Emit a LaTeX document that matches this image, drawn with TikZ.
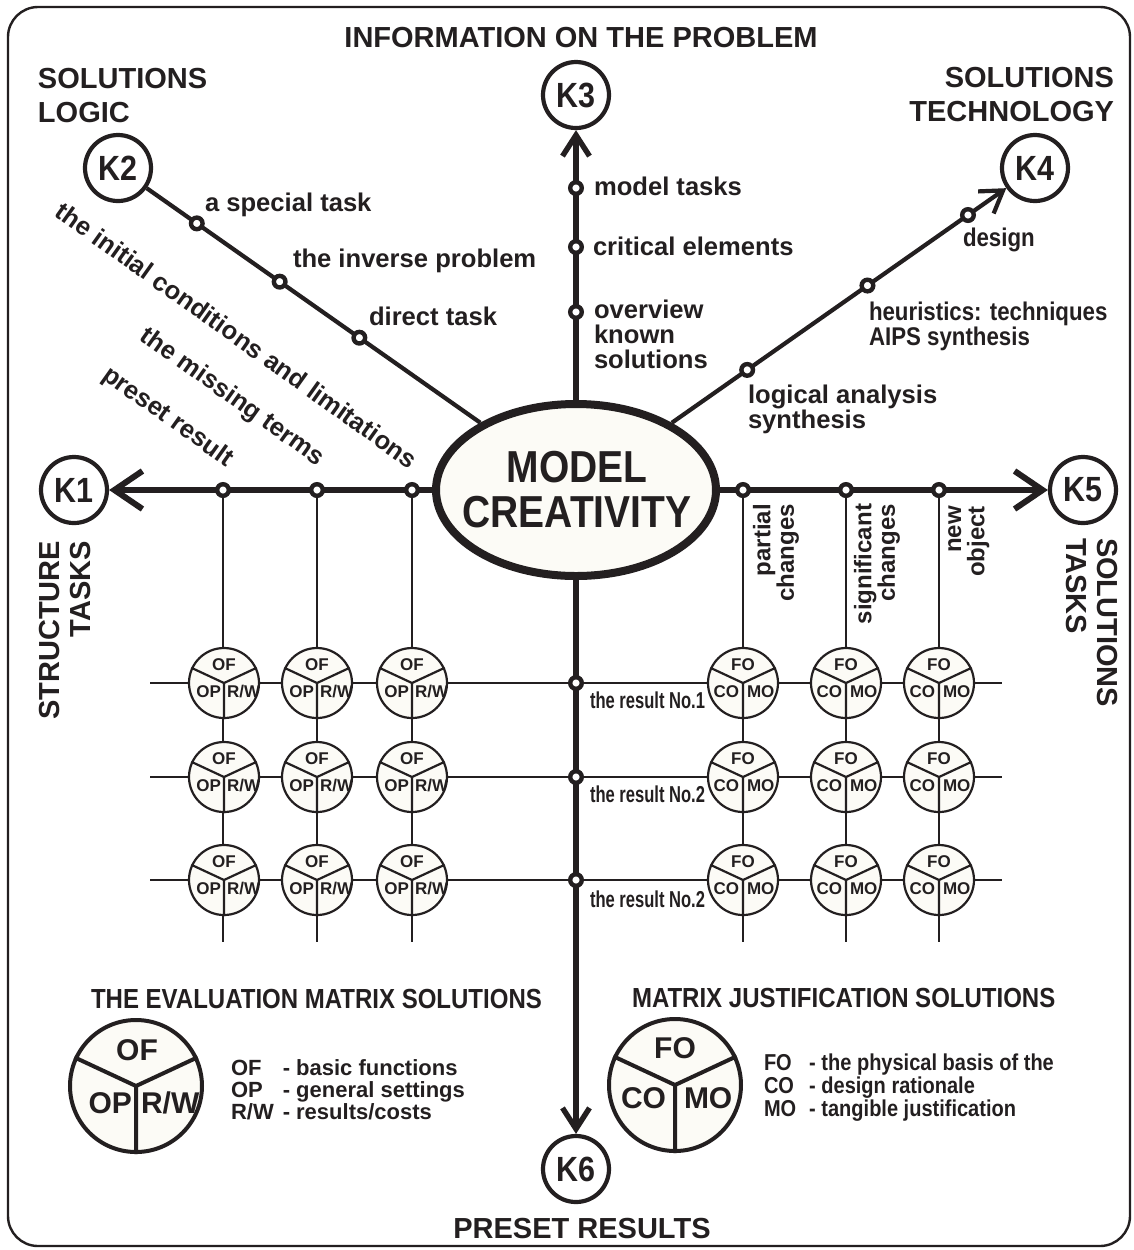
\documentclass[tikz,border=0pt]{standalone}
\usepackage{fontspec}
\setmainfont{Liberation Sans}
\newfontfamily\condfont[FakeStretch=0.87]{Liberation Sans}
\newfontfamily\narrowfont[FakeStretch=0.72]{Liberation Sans}
\usetikzlibrary{shapes.geometric,arrows.meta,calc}

\definecolor{ink}{RGB}{35,31,32}
\definecolor{cream}{RGB}{252,251,246}

\newcommand{\lstack}[1]{\begin{tabular}[t]{@{}l@{}}#1\end{tabular}}
\newcommand{\rstack}[1]{\begin{tabular}[t]{@{}r@{}}#1\end{tabular}}
\newcommand{\cstack}[1]{\begin{tabular}[t]{@{}c@{}}#1\end{tabular}}

\tikzset{every picture/.style={line width=1pt}}
\tikzset{
  outerframe/.style={line width=1.2pt,rounded corners=15pt},
  hub/.style={ellipse,draw,fill=cream,line width=4pt,minimum width=140pt,minimum height=86pt,inner sep=0pt},
  hubtxt/.style={inner sep=0pt,font=\condfont\bfseries\fontsize{22.4}{22.5}\selectfont},
  kcirc/.style={circle,draw,fill=white,line width=2.1pt,minimum size=33pt,inner sep=0pt,font=\condfont\bfseries\fontsize{17.5}{17.5}\selectfont},
  ringdot/.style={circle,draw,fill=white,line width=2.2pt,minimum size=5.8pt,inner sep=0pt},
  mainaxis/.style={line width=3pt},
  vaxis/.style={line width=2.7pt},
  spoke/.style={line width=2.1pt},
  gridline/.style={line width=1pt},
  bigbarb/.style={-{Straight Barb[length=14pt,width=19pt]}},
  smallbarb/.style={-{Straight Barb[length=10.5pt,width=13.5pt]}},
  headtxt/.style={inner sep=0pt,font=\bfseries\fontsize{14.5}{17}\selectfont},
  sidetxt/.style={inner sep=0pt,font=\bfseries\fontsize{14.5}{15.5}\selectfont},
  linetxt/.style={inner sep=0pt,font=\bfseries\fontsize{12.8}{11.25}\selectfont},
  condtxt/.style={inner sep=0pt,font=\condfont\bfseries\fontsize{12.8}{11}\selectfont},
  coltxt/.style={inner sep=0pt,font=\bfseries\fontsize{12}{10}\selectfont},
  rowtxt/.style={inner sep=0pt,font=\narrowfont\bfseries\fontsize{11.5}{11.5}\selectfont},
  smallpie/.style={circle,draw,fill=cream,line width=1.1pt,minimum size=35pt,inner sep=0pt},
  bigpie/.style={circle,draw,fill=cream,line width=2pt,minimum size=66pt,inner sep=0pt},
  smalltxt/.style={inner sep=0pt,font=\bfseries\fontsize{8.5}{8.5}\selectfont},
  bigtxt/.style={inner sep=0pt,font=\bfseries\fontsize{15}{15}\selectfont},
  titletxt/.style={inner sep=0pt,font=\condfont\bfseries\fontsize{13.8}{13.8}\selectfont},
  keytxt/.style={inner sep=0pt,font=\bfseries\fontsize{11}{10.5}\selectfont},
  condkey/.style={inner sep=0pt,font=\condfont\bfseries\fontsize{11.5}{10.75}\selectfont},
}

\begin{document}
\begin{tikzpicture}[x=0.5pt,y=0.5pt,yscale=-1,xscale=1,color=ink]
\path[use as bounding box] (0,0) rectangle (1134,1250);

%Shape: Rounded Rect [frame]
\draw[outerframe] (8,7) rectangle (1130,1246);

%Shape: Ellipse [hub] and the six K circles
\node[hub] (hub) at (576,490) {};
\node[hubtxt,anchor=base] (hubtext) at (577,482) {\cstack{MODEL\\CREATIVITY}};
\node[kcirc] (k1) at (74,490) {K1};
\node[kcirc] (k2) at (118,168) {K2};
\node[kcirc] (k3) at (576,95) {K3};
\node[kcirc] (k4) at (1035,168) {K4};
\node[kcirc] (k5) at (1083,490) {K5};
\node[kcirc] (k6) at (576,1169) {K6};

% Text Node
\node[headtxt,anchor=base] (info) at (581,47) {INFORMATION ON THE PROBLEM};
% Text Node
\node[headtxt,anchor=base west] (logic) at (37,88) {\lstack{SOLUTIONS\\LOGIC}};
% Text Node
\node[headtxt,anchor=base east] (techno) at (1115,87) {\rstack{SOLUTIONS\\TECHNOLOGY}};
% Text Node
\node[headtxt,anchor=base] (preset) at (582,1238) {PRESET RESULTS};
% Text Node
\node[sidetxt,rotate=90,anchor=north east] (structure) at (37,540) {\rstack{STRUCTURE\\TASKS}};
% Text Node
\node[sidetxt,rotate=-90,anchor=north west] (soltasks) at (1120,537) {\lstack{SOLUTIONS\\TASKS}};

%Straight Lines [axes and spokes]
\draw[mainaxis,bigbarb] (hub) -- (k1);
\draw[mainaxis,bigbarb] (hub) -- (k5);
\draw[vaxis,smallbarb] (hub) -- (k3);
\draw[vaxis,smallbarb] (hub) -- (k6);
\draw[spoke] (hub) -- (k2);
\draw[spoke,smallbarb] (hub) -- (k4);

%Straight Lines [rows of the matrices]
\foreach \r/\y in {1/683,2/777,3/880}{
  \coordinate (roww\r) at (150,\y);
  \coordinate (rowe\r) at (1002,\y);
  \draw[gridline] (roww\r) -- (rowe\r);
}
\coordinate (gridfoot) at (0,942);

%Dots on the axes
\node[ringdot] (k3a) at (576,188) {};
\node[ringdot] (k3b) at (576,247) {};
\node[ringdot] (k3c) at (576,312) {};
\node[ringdot] (k2a) at ($(hub.center)!0.828!(k2.center)$) {};
\node[ringdot] (k2b) at ($(hub.center)!0.647!(k2.center)$) {};
\node[ringdot] (k2c) at ($(hub.center)!0.473!(k2.center)$) {};
\node[ringdot] (k4a) at ($(hub.center)!0.373!(k4.center)$) {};
\node[ringdot] (k4b) at ($(hub.center)!0.635!(k4.center)$) {};
\node[ringdot] (k4c) at ($(hub.center)!0.854!(k4.center)$) {};
\foreach \n/\x in {1/223,2/317,3/412}{\node[ringdot] (la\n) at (\x,490) {};}
\foreach \n/\x in {1/743,2/846,3/939}{\node[ringdot] (ra\n) at (\x,490) {};}
\foreach \n/\y in {1/683,2/777,3/880}{\node[ringdot] (ro\n) at (576,\y) {};}

%Straight Lines [columns of the matrices]
\foreach \n in {1,2,3}{
  \draw[gridline] (la\n) -- (la\n |- gridfoot);
  \draw[gridline] (ra\n) -- (ra\n |- gridfoot);
}

%Shape: Circles [evaluation matrix]
\foreach \px [count=\i] in {224,317,412}{
  \foreach \py [count=\j] in {683,777,880}{
    \node[smallpie] (ev\i\j) at (\px,\py) {};
    \draw[line width=1.1pt] (ev\i\j.center) -- (ev\i\j.155) (ev\i\j.center) -- (ev\i\j.25) (ev\i\j.center) -- (ev\i\j.-90);
    \node[smalltxt,anchor=base] (ev\i\j-a) at ($(ev\i\j)+(0,-13)$) {OF};
    \node[smalltxt,anchor=base east] (ev\i\j-b) at ($(ev\i\j)+(-2,14)$) {OP};
    \node[smalltxt,anchor=base west] (ev\i\j-c) at ($(ev\i\j)+(2,14)$) {R/W};
  }
}
%Shape: Circles [justification matrix]
\foreach \px [count=\i] in {743,846,939}{
  \foreach \py [count=\j] in {683,777,880}{
    \node[smallpie] (ju\i\j) at (\px,\py) {};
    \draw[line width=1.1pt] (ju\i\j.center) -- (ju\i\j.155) (ju\i\j.center) -- (ju\i\j.25) (ju\i\j.center) -- (ju\i\j.-90);
    \node[smalltxt,anchor=base] (ju\i\j-a) at ($(ju\i\j)+(0,-13)$) {FO};
    \node[smalltxt,anchor=base east] (ju\i\j-b) at ($(ju\i\j)+(-3,14)$) {CO};
    \node[smalltxt,anchor=base west] (ju\i\j-c) at ($(ju\i\j)+(3,14)$) {MO};
  }
}

% Text Node
\node[linetxt,anchor=base west] (tk3a) at (593,195) {model tasks};
% Text Node
\node[linetxt,anchor=base west] (tk3b) at (592,255) {critical elements};
% Text Node
\node[linetxt,anchor=base west] (tk3c) at (593,318) {\lstack{overview\\known\\solutions}};
% Text Node
\node[linetxt,anchor=base west] (tk2a) at (204,211) {a special task};
% Text Node
\node[linetxt,anchor=base west] (tk2b) at (292,267) {the inverse problem};
% Text Node
\node[linetxt,anchor=base west] (tk2c) at (368,325) {direct task};
% Text Node
\node[condtxt,anchor=base west] (tk4c) at (962,246) {design};
% Text Node
\node[condtxt,anchor=base west] (tk4b) at (868,320) {\lstack{heuristics: techniques\\AIPS synthesis}};
% Text Node
\node[linetxt,anchor=base west] (tk4a) at (747,403) {\lstack{logical analysis\\synthesis}};
% Text Node
\node[linetxt,rotate=-35.5,anchor=base east] (tla3) at ($(la3)+(-2,-20)$) {the initial conditions and limitations};
% Text Node
\node[linetxt,rotate=-35.5,anchor=base east] (tla2) at ($(la2)+(1,-23)$) {the missing terms};
% Text Node
\node[linetxt,rotate=-35.5,anchor=base east] (tla1) at ($(la1)+(4,-22)$) {preset result};
% Text Node
\node[coltxt,rotate=90,anchor=north east] (tra1) at (752,503) {\rstack{partial\\changes}};
% Text Node
\node[coltxt,rotate=90,anchor=north east] (tra2) at (853,503) {\rstack{significant\\changes}};
% Text Node
\node[coltxt,rotate=90,anchor=north east] (tra3) at (946,505) {\rstack{new\\object}};
% Text Node
\node[rowtxt,anchor=base west] (tro1) at (589,708) {the result No.1};
% Text Node
\node[rowtxt,anchor=base west] (tro2) at (589,802) {the result No.2};
% Text Node
\node[rowtxt,anchor=base west] (tro3) at (589,907) {the result No.2};

%Legend: evaluation matrix
\node[titletxt,anchor=base west] (evaltitle) at (90,1008) {THE EVALUATION MATRIX SOLUTIONS};
\node[bigpie] (evalpie) at (136,1086) {};
\draw[line width=2pt] (evalpie.center) -- (evalpie.155) (evalpie.center) -- (evalpie.25) (evalpie.center) -- (evalpie.-90);
\node[bigtxt,anchor=base] (evalof) at ($(evalpie)+(1,-26)$) {OF};
\node[bigtxt,anchor=base east] (evalop) at ($(evalpie)+(-3,27)$) {OP};
\node[bigtxt,anchor=base west] (evalrw) at ($(evalpie)+(4,27)$) {R/W};
\node[keytxt,anchor=base west] (evalkey) at (230,1075) {\begin{tabular}[t]{@{}l@{\hspace{4.5pt}}l@{}}OF & - basic functions\\OP & - general settings\\R/W & - results/costs\end{tabular}};

%Legend: justification matrix
\node[titletxt,anchor=base west] (justtitle) at (631,1007) {MATRIX JUSTIFICATION SOLUTIONS};
\node[bigpie] (justpie) at (675,1085) {};
\draw[line width=2pt] (justpie.center) -- (justpie.155) (justpie.center) -- (justpie.25) (justpie.center) -- (justpie.-90);
\node[bigtxt,anchor=base] (justfo) at ($(justpie)+(0,-27)$) {FO};
\node[bigtxt,anchor=base east] (justco) at ($(justpie)+(-8,23)$) {CO};
\node[bigtxt,anchor=base west] (justmo) at ($(justpie)+(8,23)$) {MO};
\node[condkey,anchor=base west] (justkey) at (763,1070) {\begin{tabular}[t]{@{}l@{\hspace{6.5pt}}l@{}}FO & - the physical basis of the\\CO & - design rationale\\MO & - tangible justification\end{tabular}};
\end{tikzpicture}
\end{document}
